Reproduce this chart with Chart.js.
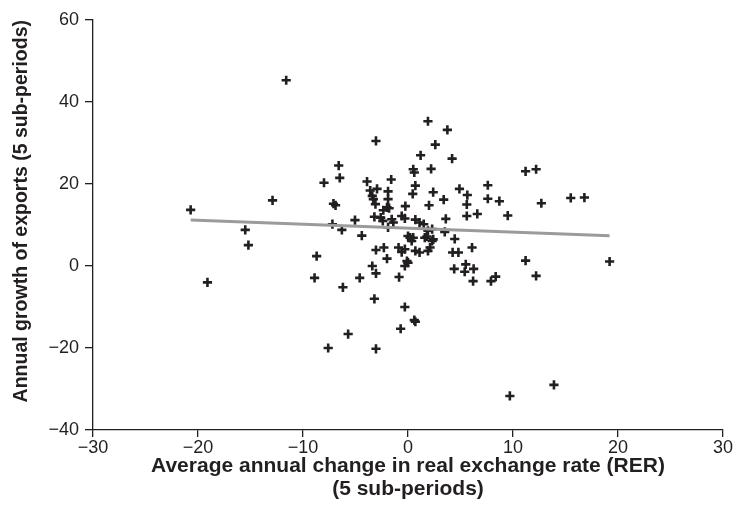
<!DOCTYPE html>
<html>
<head>
<meta charset="utf-8">
<title>RER change vs export growth</title>
<script src="https://cdn.jsdelivr.net/npm/chart.js@4.4.0/dist/chart.umd.min.js"></script>
<style>
  html, body { margin: 0; padding: 0; background: #fff; }
  #wrap { width: 735px; height: 524px; }
</style>
</head>
<body>
<div id="wrap"><canvas id="rerChart" width="735" height="524"></canvas></div>
<script>
// average annual RER change (x) and annual export growth (y), one entry per country/sub-period
var rerChange = [
  -11.6, 1.9, 3.75, -3.05, 2.6, 1.2, 4.2, -6.6, 0.5, 0.6,
  2.2, 11.2, 12.2, -6.5, -8.0, -3.9, -1.6, 4.9, 0.7, 7.6,
  0.45, -3.6, -2.95, -3.4, -3.3, -1.9, 2.4, 3.4, -1.9, 5.65,
  7.6, 8.7, 5.6, 12.7, 15.5, 16.8, -12.9, -7.1, -6.9, -20.7,
  -3.1, -0.25, 2.0, -2.0, -1.8, -2.35, 5.6, 6.6, 9.5, 3.6,
  -5.05, -3.2, -2.6, -2.4, -1.55, -1.4, -0.6, -0.3, 0.7, 1.1,
  1.5, -7.2, -6.3, -15.5, -15.2, -1.9, -4.4, 0.0, 2.3, 1.9,
  3.5, 0.5, 1.6, 2.4, 4.45, 0.2, 0.35, 1.8, 2.3, 2.1,
  1.9, 6.1, 4.25, 4.8, -3.05, -2.3, -0.9, -0.6, -0.3, 0.7,
  1.1, -2.0, -0.1, 0.0, -0.3, -3.4, -8.7, 11.2, 19.2, 4.4,
  5.5, 5.4, 6.25, 12.2, 6.2, 7.9, 8.35, -3.05, -4.6, -0.85,
  -8.9, -6.2, -19.1, -3.2, -0.3, 0.6, 0.7, -0.7, -5.7, -7.6,
  -3.05, 13.9, 9.7
];
var exportGrowth = [
  45.3, 35.3, 33.2, 30.5, 29.6, 27.0, 26.2, 24.5, 23.6, 22.8,
  23.7, 23.1, 23.6, 21.5, 20.3, 20.6, 21.1, 18.8, 19.6, 19.7,
  17.6, 18.4, 18.8, 17.1, 16.3, 18.2, 18.0, 16.2, 16.3, 17.3,
  16.4, 15.8, 15.0, 15.3, 16.6, 16.7, 16.0, 15.2, 14.8, 13.7,
  15.1, 14.6, 14.8, 14.3, 14.1, 13.6, 12.2, 12.7, 12.3, 11.5,
  11.2, 12.0, 11.8, 11.0, 11.4, 10.6, 12.2, 11.6, 11.3, 10.6,
  10.2, 10.2, 8.8, 8.8, 5.1, 9.4, 7.4, 7.3, 9.0, 8.6,
  8.3, 6.9, 6.9, 6.5, 6.6, 6.9, 6.1, 7.2, 6.1, 4.5,
  3.7, 4.5, 3.3, 3.3, 3.9, 4.5, 4.5, 3.4, 4.1, 3.7,
  3.3, 1.8, 1.2, 0.8, 0.0, 0.0, 2.4, 1.3, 1.1, -0.7,
  0.4, -1.4, -0.7, -2.4, -3.7, -3.7, -2.6, -1.8, -2.9, -2.7,
  -2.9, -5.2, -4.0, -8.0, -10.0, -13.2, -13.6, -15.3, -16.6, -20.0,
  -20.2, -29.0, -31.7
];

// fitted trend line end points
var fitX = [-20.7, 19.2];
var fitY = [11.2, 7.4];

var xTickValues = [-30, -20, -10, 0, 10, 20, 30];
var yTickValues = [-40, -20, 0, 20, 40, 60];

var ink = '#231f20';
var face = '"Liberation Sans", Arial, sans-serif';

var points = rerChange.map(function(x, i) { return { x: x, y: exportGrowth[i] }; });
var fitPoints = fitX.map(function(x, i) { return { x: x, y: fitY[i] }; });

function minusSign(v) {
  return String(v).replace('-', '\u2212');
}

var ctx = document.getElementById('rerChart').getContext('2d');
var rerChart = new Chart(ctx, {
  type: 'scatter',
  data: {
    datasets: [{
      data: points,
      pointStyle: 'cross',
      pointRadius: 4.6,
      pointHoverRadius: 4.6,
      borderColor: ink,
      backgroundColor: ink,
      pointBorderWidth: 2.6,
      order: 2
    }, {
      type: 'line',
      data: fitPoints,
      borderColor: '#9b9b9b',
      borderWidth: 3,
      pointRadius: 0,
      fill: false,
      order: 1
    }]
  },
  options: {
    responsive: false,
    animation: false,
    layout: { padding: { left: 0, right: 12, top: 20, bottom: 0 } },
    plugins: {
      legend: { display: false },
      tooltip: { enabled: false }
    },
    scales: {
      x: {
        type: 'linear',
        min: -30,
        max: 30,
        afterBuildTicks: function(scale) {
          scale.ticks = xTickValues.map(function(v) { return { value: v }; });
        },
        afterFit: function(scale) { scale.height = 94; },
        border: { display: true, color: ink, width: 1.3 },
        grid: { drawOnChartArea: false, drawTicks: true, tickLength: 7, color: ink, lineWidth: 1.3 },
        ticks: {
          color: ink,
          padding: 0,
          font: { family: face, size: 18 },
          callback: function(v) { return minusSign(v); }
        },
        title: {
          display: true,
          text: ['Average annual change in real exchange rate (RER)', '(5 sub-periods)'],
          color: ink,
          padding: { top: 0, bottom: 23 },
          font: { family: face, size: 21, weight: 'bold', lineHeight: 1.1 }
        }
      },
      y: {
        type: 'linear',
        min: -40,
        max: 60,
        afterBuildTicks: function(scale) {
          scale.ticks = yTickValues.map(function(v) { return { value: v }; });
        },
        afterFit: function(scale) { scale.width = 93; },
        border: { display: true, color: ink, width: 1.3 },
        grid: { drawOnChartArea: false, drawTicks: true, tickLength: 8, color: ink, lineWidth: 1.3 },
        ticks: {
          color: ink,
          padding: 6,
          font: { family: face, size: 18 },
          callback: function(v) { return minusSign(v); }
        },
        title: {
          display: true,
          text: 'Annual growth of exports (5 sub-periods)',
          align: 'end',
          color: ink,
          padding: { top: 10, bottom: 0 },
          font: { family: face, size: 19.5, weight: 'bold' }
        }
      }
    }
  }
});
</script>
</body>
</html>
